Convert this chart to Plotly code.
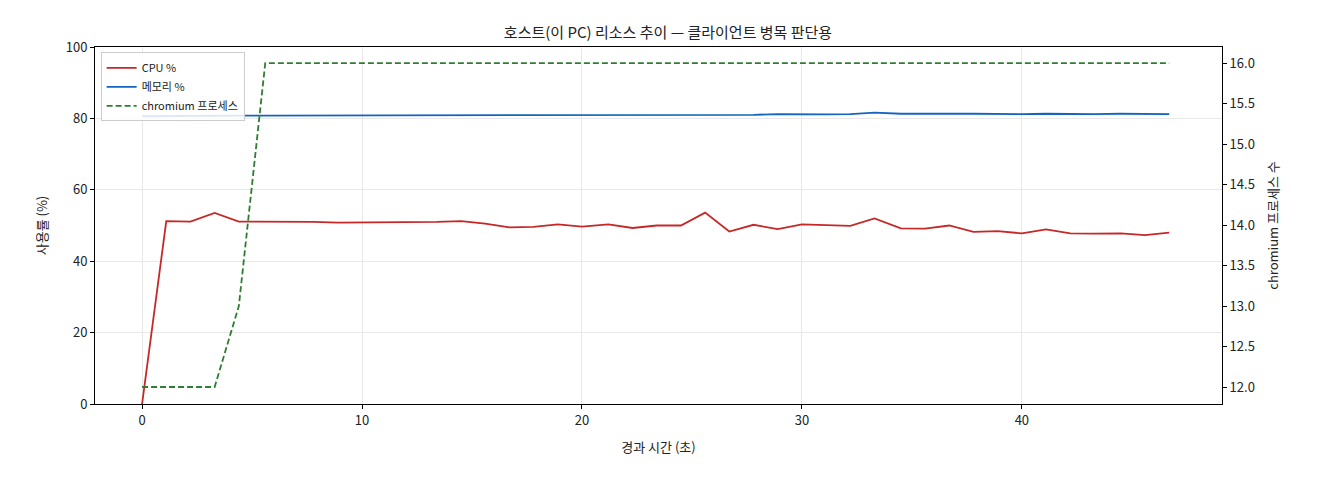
import plotly.graph_objects as go

elapsed_s = [0.0, 1.1, 2.2, 3.3, 4.4, 5.6, 6.7, 7.8, 8.9, 10.0, 11.1, 12.2, 13.4, 14.5,
             15.6, 16.7, 17.8, 18.9, 20.0, 21.2, 22.3, 23.4, 24.5, 25.6, 26.7, 27.8,
             28.9, 30.0, 31.1, 32.2, 33.3, 34.5, 35.6, 36.7, 37.8, 38.9, 40.0, 41.1,
             42.2, 43.3, 44.5, 45.6, 46.7]
cpu_pct = [0, 51.2, 51.1, 53.5, 51.1, 51.1, 51.0, 51.0, 50.8, 50.8, 50.9, 50.8, 51.0,
           51.2, 50.5, 49.5, 49.6, 50.3, 49.7, 50.3, 49.3, 50.0, 50.0, 53.6, 48.3, 50.2,
           49.0, 50.3, 50.2, 49.9, 52.0, 49.2, 49.1, 50.0, 48.2, 48.4, 47.8, 48.9, 47.8,
           47.7, 47.8, 47.3, 48.0]
mem_pct = [80.6, 80.7, 80.7, 80.8, 80.8, 80.8, 80.8, 80.8, 80.8, 80.9, 80.9, 80.9, 80.9,
           80.8, 80.9, 80.9, 80.9, 80.9, 80.9, 80.9, 80.9, 80.9, 81.0, 81.0, 81.0, 81.0,
           81.2, 81.1, 81.1, 81.2, 81.6, 81.3, 81.2, 81.3, 81.3, 81.2, 81.2, 81.3, 81.2,
           81.2, 81.3, 81.2, 81.2]
chromium_n = [12, 12, 12, 12, 13, 16, 16, 16, 16, 16, 16, 16, 16, 16, 16, 16, 16, 16, 16,
              16, 16, 16, 16, 16, 16, 16, 16, 16, 16, 16, 16, 16, 16, 16, 16, 16, 16, 16,
              16, 16, 16, 16, 16]

FONT = "Noto Sans CJK KR"

fig = go.Figure()
fig.add_trace(go.Scatter(x=elapsed_s, y=cpu_pct, name="CPU %", mode="lines",
                         line=dict(color="#c62828", width=1.8)))
fig.add_trace(go.Scatter(x=elapsed_s, y=mem_pct, name="메모리 %", mode="lines",
                         line=dict(color="#1565c0", width=1.8)))
fig.add_trace(go.Scatter(x=elapsed_s, y=chromium_n, name="chromium 프로세스", mode="lines",
                         yaxis="y2", line=dict(color="#2e7d32", width=1.8, dash="6px,3px")))

axis_common = dict(showline=True, linecolor="black", linewidth=1, ticks="outside",
                   tickcolor="black", ticklen=4, zeroline=False, automargin=False,
                   tickfont=dict(size=13, color="#222"))
fig.update_layout(
    width=1320, height=480,
    margin=dict(l=87, r=106, t=39, b=84),
    paper_bgcolor="white", plot_bgcolor="white",
    font=dict(family=FONT, color="#222"),
    title=dict(text="호스트(이 PC) 리소스 추이 — 클라이언트 병목 판단용", x=0.5, y=0.96,
               xanchor="center", font=dict(size=15)),
    showlegend=True,
    legend=dict(x=0.005, y=0.985, xanchor="left", yanchor="top", bgcolor="rgba(255,255,255,0.85)",
                bordercolor="#ccc", borderwidth=1, font=dict(size=11)),
    xaxis=dict(title=dict(text="경과 시간 (초)", font=dict(size=13)), range=[-2.14, 49.1],
               dtick=10, mirror=True, showgrid=True, gridcolor="#e8e8e8", **axis_common),
    yaxis=dict(title=dict(text="사용률 (%)", font=dict(size=13)), range=[0, 100], dtick=20,
               showgrid=True, gridcolor="#e8e8e8", **axis_common),
    yaxis2=dict(title=dict(text="chromium 프로세스 수", font=dict(size=13)), overlaying="y",
                side="right", range=[11.79, 16.2], dtick=0.5, tickformat=".1f",
                showgrid=False, **axis_common),
)

fig.write_html("out.html")
